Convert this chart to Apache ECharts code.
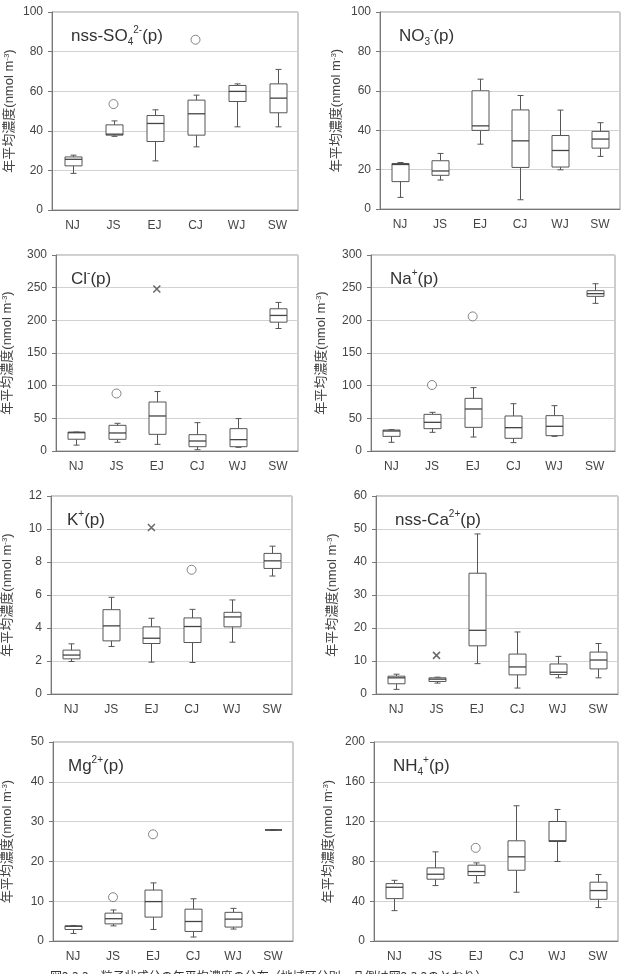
<!DOCTYPE html>
<html>
<head>
<meta charset="UTF-8">
<title>Echarts</title>
<script src="https://cdn.jsdelivr.net/npm/echarts@6/dist/echarts.min.js"></script>
<style>
html,body{margin:0;padding:0;background:#fff;}
</style>
</head>
<body>
<div id="main" style="width:623px;height:974px;"></div>
<script type="text/javascript">
// 地域区分
var regions = ['NJ', 'JS', 'EJ', 'CJ', 'WJ', 'SW'];

// 箱ひげ図: [最小, Q1, 中央値, Q3, 最大]
var so4Box = [[18.5, 22.3, 25.6, 26.8, 27.7], [37.2, 37.8, 38.3, 43.0, 45.0], [24.8, 34.6, 43.7, 47.7, 50.6],
  [31.9, 37.8, 48.6, 55.5, 58.0], [42.0, 54.8, 59.9, 62.9, 63.7], [42.0, 49.1, 56.5, 63.7, 71.0]];
var no3Box = [[5.9, 13.9, 22.6, 23.1, 23.6], [14.7, 17.1, 19.3, 24.5, 28.2], [32.9, 39.9, 42.2, 60.0, 65.9],
  [4.7, 21.1, 34.6, 50.3, 57.6], [19.9, 21.3, 29.7, 37.3, 50.2], [26.7, 30.9, 35.5, 39.4, 43.8]];
var clBox = [[9.0, 18.0, 28.0, 29.0, 29.0], [13.3, 17.9, 27.6, 39.3, 42.4], [10.2, 25.5, 53.6, 75.0, 91.0],
  [2.0, 6.6, 15.3, 25.0, 43.4], [5.6, 6.6, 17.4, 34.2, 49.6], [187.5, 197.2, 207.5, 217.7, 227.4]];
var naBox = [[13.3, 22.4, 30.6, 32.1, 32.7], [28.6, 34.2, 43.9, 56.1, 59.2], [21.4, 36.2, 64.3, 80.6, 97.0],
  [12.8, 19.4, 35.7, 53.6, 72.4], [22.4, 23.5, 37.8, 54.1, 69.4], [226.0, 236.7, 240.8, 245.4, 256.0]];
var kBox = [[1.97, 2.13, 2.36, 2.66, 3.04], [2.88, 3.22, 4.13, 5.11, 5.86], [1.93, 3.06, 3.38, 4.07, 4.59],
  [1.91, 3.12, 4.09, 4.61, 5.13], [3.14, 4.07, 4.67, 4.95, 5.70], [7.15, 7.61, 8.07, 8.52, 8.96]];
var caBox = [[1.4, 3.1, 4.9, 5.4, 6.0], [3.3, 3.8, 4.5, 4.9, 5.1], [9.2, 14.6, 19.3, 36.6, 48.5],
  [1.8, 5.8, 8.2, 12.1, 18.8], [4.9, 5.9, 6.6, 9.1, 11.4], [4.9, 7.6, 10.3, 12.7, 15.3]];
var mgBox = [[1.9, 2.9, 3.7, 3.8, 3.9], [3.8, 4.3, 5.6, 7.0, 7.8], [2.9, 6.0, 9.9, 12.8, 14.6],
  [1.0, 2.4, 4.9, 8.0, 10.6], [3.0, 3.5, 5.5, 7.2, 8.2], [27.9, 27.9, 27.9, 27.9, 27.9]];
var nh4Box = [[30.5, 42.6, 54.0, 57.7, 61.0], [55.7, 62.1, 67.1, 73.5, 89.6], [58.4, 65.8, 69.8, 76.2, 78.5],
  [49.0, 71.1, 84.6, 100.7, 135.9], [79.9, 100.0, 100.7, 120.1, 132.2], [33.6, 41.9, 50.7, 59.1, 66.8]];

// 外れ値 [地域index, 値]  ○ と ×
var so4Out = [[1, 53.5], [3, 86.0]];
var no3Out = [];
var clOut = [[1, 88.0]];
var clCross = [[2, 248.0]];
var naOut = [[1, 101.0], [2, 206.0]];
var kOut = [[3, 7.53]];
var kCross = [[2, 10.09]];
var caCross = [[1, 11.7]];
var mgOut = [[1, 11.0], [2, 26.8]];
var nh4Out = [[2, 93.6]];

// 各パネルの設定
var panels = [
  {title: '{t|nss-SO}{sb|4}{sp|2-}{t|(p)}', box: so4Box, out: so4Out, cross: [], max: 100, step: 20},
  {title: '{t|NO}{sb|3}{sp|-}{t|(p)}', box: no3Box, out: no3Out, cross: [], max: 100, step: 20},
  {title: '{t|Cl}{sp|-}{t|(p)}', box: clBox, out: clOut, cross: clCross, max: 300, step: 50},
  {title: '{t|Na}{sp|+}{t|(p)}', box: naBox, out: naOut, cross: [], max: 300, step: 50},
  {title: '{t|K}{sp|+}{t|(p)}', box: kBox, out: kOut, cross: kCross, max: 12, step: 2},
  {title: '{t|nss-Ca}{sp|2+}{t|(p)}', box: caBox, out: [], cross: caCross, max: 60, step: 10},
  {title: '{t|Mg}{sp|2+}{t|(p)}', box: mgBox, out: mgOut, cross: [], max: 50, step: 10},
  {title: '{t|NH}{sb|4}{sp|+}{t|(p)}', box: nh4Box, out: nh4Out, cross: [], max: 200, step: 40}
];

// レイアウト [left, top, width, height, nameGap]
var layout = [
  [52, 12, 246, 198, 36], [380, 12, 240, 197, 37],
  [52, 255, 246, 196, 42], [371, 255, 244, 196, 43],
  [48, 496, 244, 198, 37], [376, 496, 242, 198, 37],
  [49, 742, 244, 199, 39], [374, 742, 244, 199, 39]
];

var FONT = "'Liberation Sans', Arial, 'Noto Sans CJK JP', sans-serif";

function renderBox(params, api) {
  var x = api.value(0);
  var lo = api.coord([x, api.value(1)]);
  var q1 = api.coord([x, api.value(2)]);
  var md = api.coord([x, api.value(3)]);
  var q3 = api.coord([x, api.value(4)]);
  var hi = api.coord([x, api.value(5)]);
  var bw = Math.round(api.size([1, 0])[0] * 0.42);
  var cw = Math.round(bw * 0.38);
  var cx = Math.round(md[0]) + 0.5;
  var st = {stroke: '#555', lineWidth: 1, fill: null};
  return {
    type: 'group',
    children: [
      {type: 'line', shape: {x1: cx, y1: hi[1], x2: cx, y2: q3[1]}, style: st},
      {type: 'line', shape: {x1: cx, y1: q1[1], x2: cx, y2: lo[1]}, style: st},
      {type: 'line', shape: {x1: cx - cw / 2, y1: hi[1], x2: cx + cw / 2, y2: hi[1]}, style: st},
      {type: 'line', shape: {x1: cx - cw / 2, y1: lo[1], x2: cx + cw / 2, y2: lo[1]}, style: st},
      {type: 'rect', shape: {x: cx - bw / 2, y: q3[1], width: bw, height: q1[1] - q3[1]},
        style: {stroke: '#555', fill: '#fff', lineWidth: 1}},
      {type: 'line', shape: {x1: cx - bw / 2, y1: md[1], x2: cx + bw / 2, y2: md[1]},
        style: {stroke: '#444', lineWidth: 1.3}}
    ]
  };
}

var grids = [], xAxes = [], yAxes = [], series = [], titles = [];
panels.forEach(function (p, i) {
  var L = layout[i];
  grids.push({left: L[0], top: L[1], width: L[2], height: L[3], show: true,
    borderColor: '#9a9a9a', borderWidth: 1, backgroundColor: '#fff'});
  xAxes.push({
    type: 'category', gridIndex: i, data: regions,
    axisLine: {lineStyle: {color: '#777'}},
    axisTick: {length: 4, lineStyle: {color: '#777'}},
    axisLabel: {color: '#444', fontSize: 12, fontFamily: FONT, margin: 10}
  });
  yAxes.push({
    type: 'value', gridIndex: i, min: 0, max: p.max, interval: p.step,
    name: '年平均濃度(nmol m{sp|-3})', nameLocation: 'middle', nameGap: L[4], nameRotate: 90,
    nameTextStyle: {color: '#444', fontSize: 13, fontFamily: FONT,
      rich: {sp: {fontSize: 8, verticalAlign: 'top', color: '#444', fontFamily: FONT}}},
    axisLine: {show: true, lineStyle: {color: '#777'}},
    axisTick: {show: true, length: 4, lineStyle: {color: '#777'}},
    axisLabel: {color: '#444', fontSize: 12, fontFamily: FONT, margin: 9},
    splitLine: {lineStyle: {color: '#d2d2d2'}}
  });
  titles.push({
    text: p.title, left: L[0] + 19, top: L[1] + 13, padding: 0,
    textStyle: {fontFamily: FONT, fontWeight: 'normal', rich: {
      t: {fontSize: 17, color: '#333', fontWeight: 'normal', lineHeight: 22, fontFamily: FONT},
      sb: {fontSize: 10, color: '#333', fontWeight: 'normal', verticalAlign: 'bottom', lineHeight: 22, fontFamily: FONT},
      sp: {fontSize: 10, color: '#333', fontWeight: 'normal', verticalAlign: 'top', lineHeight: 22, fontFamily: FONT}
    }}
  });
  series.push({
    type: 'custom', xAxisIndex: i, yAxisIndex: i,
    data: p.box.map(function (b, k) { return [k].concat(b); }),
    encode: {x: 0, y: [1, 2, 3, 4, 5]},
    renderItem: renderBox, silent: true
  });
  series.push({
    type: 'scatter', xAxisIndex: i, yAxisIndex: i, data: p.out,
    symbol: 'circle', symbolSize: 9, silent: true,
    itemStyle: {color: '#fff', borderColor: '#666', borderWidth: 1}
  });
  series.push({
    type: 'scatter', xAxisIndex: i, yAxisIndex: i, data: p.cross,
    symbol: 'path://M0,0L10,10M10,0L0,10', symbolSize: 7, silent: true,
    itemStyle: {color: 'transparent', borderColor: '#444', borderWidth: 1.5}
  });
});

var myChart = echarts.init(document.getElementById('main'));
var option = {
  animation: false,
  backgroundColor: '#fff',
  title: titles,
  grid: grids,
  xAxis: xAxes,
  yAxis: yAxes,
  series: series,
  graphic: [{
    type: 'text', left: 50, top: 970,
    style: {text: '図2.3.3　粒子状成分の年平均濃度の分布（地域区分別，凡例は図2.3.2のとおり）',
      fill: '#333', fontSize: 12, fontFamily: "'Noto Sans CJK JP', sans-serif"}
  }]
};
myChart.setOption(option);
</script>
</body>
</html>
